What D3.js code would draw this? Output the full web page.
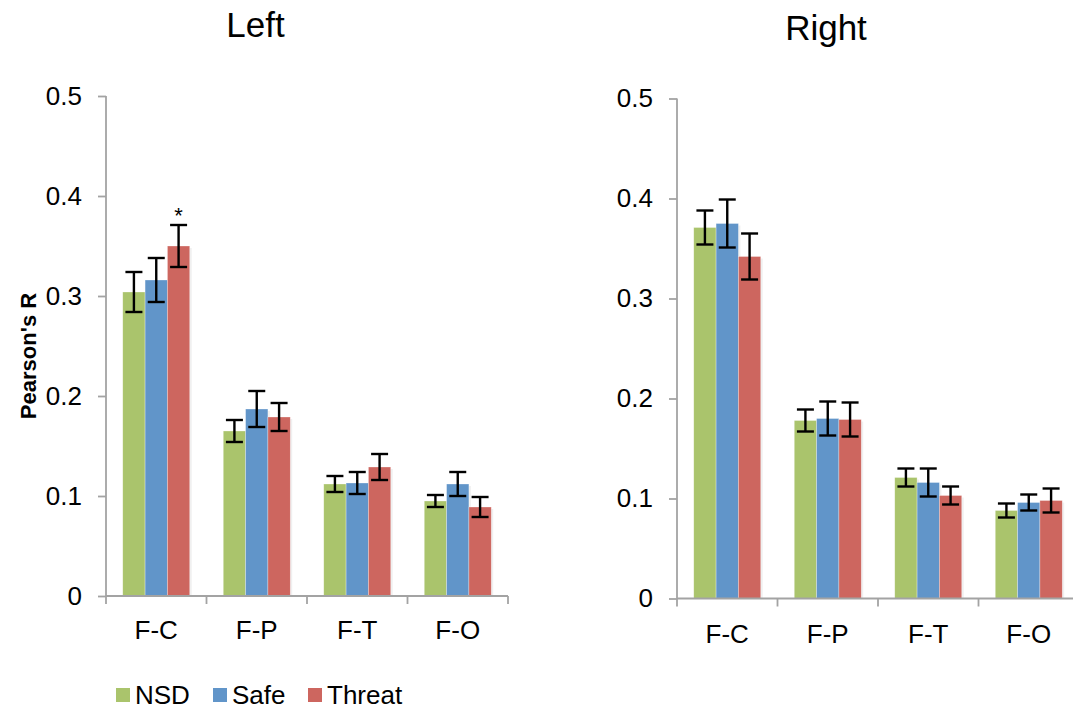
<!DOCTYPE html>
<html>
<head>
<meta charset="utf-8">
<script src="https://cdn.jsdelivr.net/npm/d3@7"></script>
<style>
  html, body { margin: 0; padding: 0; background: #fff; }
  svg { display: block; font-family: "Liberation Sans", Arial, sans-serif; }
</style>
</head>
<body>
<svg id="chart" width="1073" height="711"></svg>
<script>
// ---- Data ----
const categories = ["F-C", "F-P", "F-T", "F-O"];
const seriesNames = ["NSD", "Safe", "Threat"];
const seriesColors = ["#AAC46C", "#6195C9", "#CD665F"];
const yTicks = [0, 0.1, 0.2, 0.3, 0.4, 0.5];
const yTickLabels = ["0", "0.1", "0.2", "0.3", "0.4", "0.5"];

// Left hemisphere: means and error (±)
const leftNSD    = [0.304, 0.165, 0.112, 0.095];
const leftSafe   = [0.316, 0.187, 0.113, 0.112];
const leftThreat = [0.350, 0.179, 0.129, 0.089];
const leftNSDErr    = [0.020, 0.011, 0.008, 0.006];
const leftSafeErr   = [0.022, 0.018, 0.011, 0.012];
const leftThreatErr = [0.021, 0.014, 0.013, 0.010];

// Right hemisphere
const rightNSD    = [0.371, 0.178, 0.121, 0.088];
const rightSafe   = [0.375, 0.180, 0.116, 0.096];
const rightThreat = [0.342, 0.179, 0.103, 0.098];
const rightNSDErr    = [0.017, 0.011, 0.009, 0.007];
const rightSafeErr   = [0.024, 0.017, 0.014, 0.008];
const rightThreatErr = [0.023, 0.017, 0.009, 0.012];

// Significance markers: [category, series]
const leftStars = [["F-C", "Threat"]];

// ---- Drawing ----
const svg = d3.select("#chart");
const axisColor = "#A3A3A3";

function drawPanel(opts) {
  const { title, x0, x1, yBottom, yTop, values, errors, stars, titleX, titleY, catLabelDy, yLabel } = opts;
  const g = svg.append("g");

  const x = d3.scaleBand().domain(categories).range([x0, x1]).padding(0);
  const xs = d3.scaleBand().domain(seriesNames).range([0, x.bandwidth()]).paddingInner(0).paddingOuter(0.75);
  const y = d3.scaleLinear().domain([0, 0.5]).range([yBottom, yTop]);

  // title
  g.append("text").attr("x", titleX).attr("y", titleY)
    .attr("text-anchor", "middle").attr("font-size", 35).attr("fill", "#000").text(title);

  // y axis
  const yAxis = d3.axisLeft(y).tickValues(yTicks)
    .tickFormat((d, i) => yTickLabels[i]).tickSize(8).tickPadding(16);
  const ya = g.append("g").attr("transform", `translate(${x0},0)`).call(yAxis);
  ya.select(".domain").attr("stroke", axisColor).attr("stroke-width", 1.8)
    .attr("d", `M0,${yTop}V${yBottom}`);
  ya.selectAll(".tick line").attr("stroke", axisColor).attr("stroke-width", 1.8);
  ya.selectAll(".tick text").attr("font-size", 26).attr("fill", "#000")
    .attr("font-family", "Liberation Sans, Arial, sans-serif");

  // bars data
  const data = [];
  categories.forEach((c, ci) => {
    seriesNames.forEach((s, si) => {
      data.push({ c, s, si, v: values[si][ci], e: errors[si][ci] });
    });
  });

  // faint shadow
  g.selectAll("rect.shadow").data(data).enter().append("rect")
    .attr("class", "shadow")
    .attr("x", d => x(d.c) + xs(d.s) + 2)
    .attr("y", d => y(d.v) + 2)
    .attr("width", xs.bandwidth())
    .attr("height", d => y(0) - y(d.v) - 2)
    .attr("fill", "#000").attr("opacity", 0.06);

  g.selectAll("rect.bar").data(data).enter().append("rect")
    .attr("class", "bar")
    .attr("x", d => x(d.c) + xs(d.s))
    .attr("y", d => y(d.v))
    .attr("width", xs.bandwidth())
    .attr("height", d => y(0) - y(d.v))
    .attr("fill", d => seriesColors[d.si])
    .attr("stroke", "rgba(255,255,255,0.5)").attr("stroke-width", 0.6);

  // x axis
  g.append("line").attr("x1", x0).attr("x2", x1).attr("y1", y(0)).attr("y2", y(0))
    .attr("stroke", axisColor).attr("stroke-width", 1.8);
  const bounds = categories.map(c => x(c)).concat([x1]);
  g.selectAll("line.xt").data(bounds).enter().append("line")
    .attr("x1", d => d).attr("x2", d => d)
    .attr("y1", y(0)).attr("y2", y(0) + 8)
    .attr("stroke", axisColor).attr("stroke-width", 1.8);
  g.selectAll("text.cat").data(categories).enter().append("text")
    .attr("x", d => x(d) + x.bandwidth() / 2)
    .attr("y", y(0) + catLabelDy)
    .attr("text-anchor", "middle").attr("font-size", 26).attr("fill", "#000")
    .text(d => d);

  // error bars
  const cap = 8.5;
  const eb = g.selectAll("g.err").data(data).enter().append("g").attr("class", "err")
    .attr("stroke", "#000").attr("stroke-width", 2.4);
  eb.append("line")
    .attr("x1", d => x(d.c) + xs(d.s) + xs.bandwidth() / 2)
    .attr("x2", d => x(d.c) + xs(d.s) + xs.bandwidth() / 2)
    .attr("y1", d => y(d.v + d.e)).attr("y2", d => y(d.v - d.e));
  eb.append("line")
    .attr("x1", d => x(d.c) + xs(d.s) + xs.bandwidth() / 2 - cap)
    .attr("x2", d => x(d.c) + xs(d.s) + xs.bandwidth() / 2 + cap)
    .attr("y1", d => y(d.v + d.e)).attr("y2", d => y(d.v + d.e));
  eb.append("line")
    .attr("x1", d => x(d.c) + xs(d.s) + xs.bandwidth() / 2 - cap)
    .attr("x2", d => x(d.c) + xs(d.s) + xs.bandwidth() / 2 + cap)
    .attr("y1", d => y(d.v - d.e)).attr("y2", d => y(d.v - d.e));

  // stars
  stars.forEach(([c, s]) => {
    const ci = categories.indexOf(c), si = seriesNames.indexOf(s);
    const top = values[si][ci] + errors[si][ci];
    g.append("text")
      .attr("x", x(c) + xs(s) + xs.bandwidth() / 2)
      .attr("y", y(top) - 2)
      .attr("text-anchor", "middle").attr("font-size", 22).attr("fill", "#000").text("*");
  });

  if (yLabel) {
    g.append("text")
      .attr("transform", `translate(36,${(yTop + yBottom) / 2 + 10}) rotate(-90)`)
      .attr("text-anchor", "middle").attr("font-size", 22).attr("font-weight", "bold")
      .attr("fill", "#000").text(yLabel);
  }
}

drawPanel({
  title: "Left", titleX: 255.5, titleY: 37,
  x0: 106, x1: 508, yBottom: 596, yTop: 96,
  values: [leftNSD, leftSafe, leftThreat],
  errors: [leftNSDErr, leftSafeErr, leftThreatErr],
  stars: leftStars, catLabelDy: 43, yLabel: "Pearson's R"
});

drawPanel({
  title: "Right", titleX: 826, titleY: 40,
  x0: 677, x1: 1079, yBottom: 598.5, yTop: 98.5,
  values: [rightNSD, rightSafe, rightThreat],
  errors: [rightNSDErr, rightSafeErr, rightThreatErr],
  stars: [], catLabelDy: 44, yLabel: null
});

// legend
const legendX = [116, 213, 308];
const leg = svg.append("g");
seriesNames.forEach((s, i) => {
  leg.append("rect").attr("x", legendX[i]).attr("y", 688).attr("width", 14).attr("height", 14)
    .attr("fill", seriesColors[i]);
  leg.append("text").attr("x", legendX[i] + 19).attr("y", 703.5)
    .attr("font-size", 26).attr("fill", "#000").text(s);
});
</script>
</body>
</html>
